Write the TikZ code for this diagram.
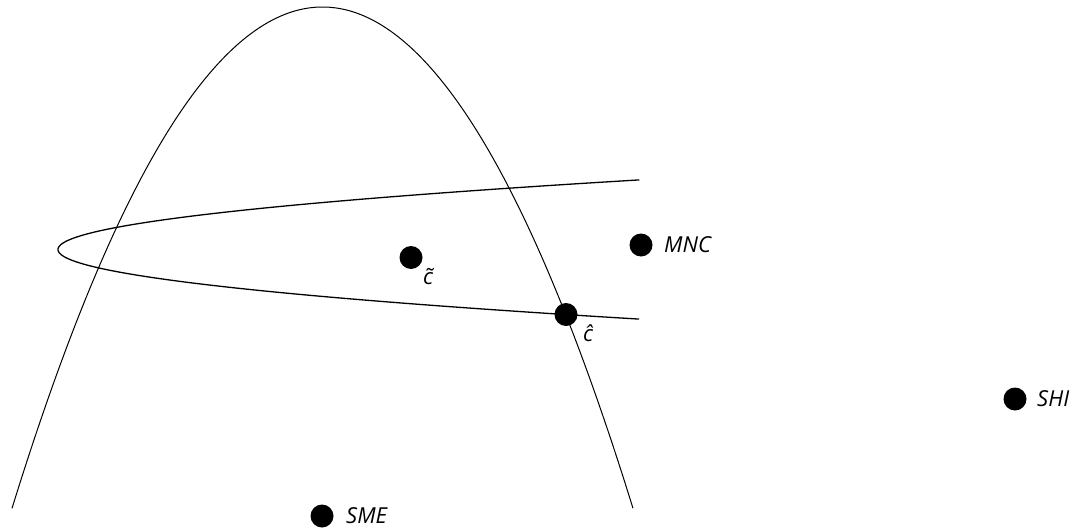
\documentclass[tikz,border=0pt]{standalone}
\usepackage{fontspec}
\setmainfont{Open Sans}
\begin{document}
\begin{tikzpicture}[x=1pt,y=-1pt,
  dot/.style={circle,fill=black,draw=none,minimum size=23pt,inner sep=0pt},
  lbl/.style={anchor=west,inner sep=0pt,font=\fontsize{22}{26}\selectfont\itshape},
  acc/.style={inner sep=0pt,font=\fontsize{22}{26}\selectfont\itshape},
  curveA/.style={line width=1pt},
  curveB/.style={line width=1.3pt}]
\useasboundingbox (0,0) rectangle (1079,530);
% downward parabola
\draw[curveA] plot[domain=-3.105:3.105,samples=200,variable=\t] ({322.5+100*\t},{7+52*\t*\t});
% sideways parabola
\draw[curveB] plot[domain=-6.96:6.96,samples=200,variable=\t] ({58+12*\t*\t},{249.5+10*\t});
% points
\node[dot] (ctilde) at (411,257.5) {};
\node[dot] (chat) at (566,314.5) {};
\node[dot] (mnc) at (641,245) {};
\node[dot] (shi) at (1015,399) {};
\node[dot] (sme) at (322,516) {};
% labels
\node[acc] (ctildel) at (428,277) {c̃};
\node[acc] (chatl) at (588,333) {ĉ};
\node[lbl] (mncl) at (664,245) {MNC};
\node[lbl] (shil) at (1037,399) {SHI};
\node[lbl] (smel) at (346,516) {SME};
\end{tikzpicture}
\end{document}
